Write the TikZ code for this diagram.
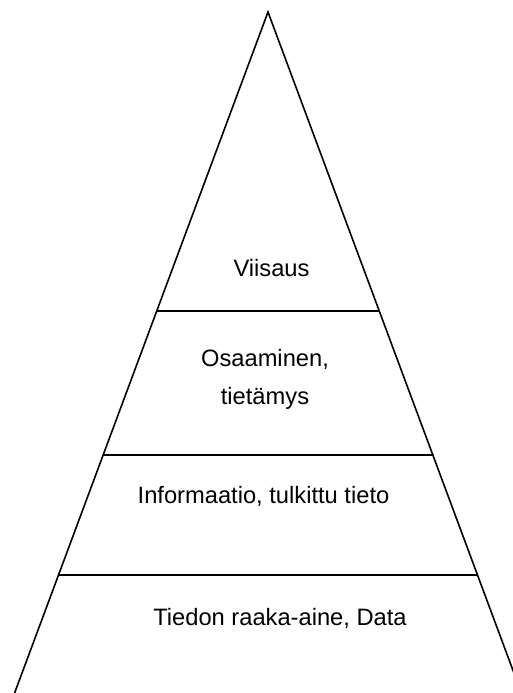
\documentclass[tikz,border=0pt]{standalone}
\usepackage{fontspec}
\setmainfont{Liberation Sans}
\begin{document}
\begin{tikzpicture}[x=1pt,y=-1pt,
  edge/.style={line width=1.6pt},
  lbl/.style={anchor=base, inner sep=0pt, font=\fontsize{23.7}{28}\selectfont}]
\clip (0,0) rectangle (513,693);
\fill[white] (0,0) rectangle (513,693);
\coordinate (apex) at (268,12);
\coordinate (bl) at (14.6,693);
\coordinate (br) at (521.4,693);
\draw[edge, line join=miter] (bl) -- (apex) -- (br);
\coordinate (l1a) at (156,311);
\coordinate (l1b) at (380,311);
\coordinate (l2a) at (102.5,455);
\coordinate (l2b) at (433.5,455);
\coordinate (l3a) at (57.8,575);
\coordinate (l3b) at (478.2,575);
\draw[edge] (l1a) -- (l1b);
\draw[edge] (l2a) -- (l2b);
\draw[edge] (l3a) -- (l3b);
\node[lbl] (viisaus) at (271.5,276) {Viisaus};
\node[lbl] (osaaminen) at (265,366) {Osaaminen,};
\node[lbl] (tietamys) at (265,404) {tietämys};
\node[lbl] (informaatio) at (263.5,503) {Informaatio, tulkittu tieto};
\node[lbl] (data) at (280,625) {Tiedon raaka-aine, Data};
\end{tikzpicture}
\end{document}
